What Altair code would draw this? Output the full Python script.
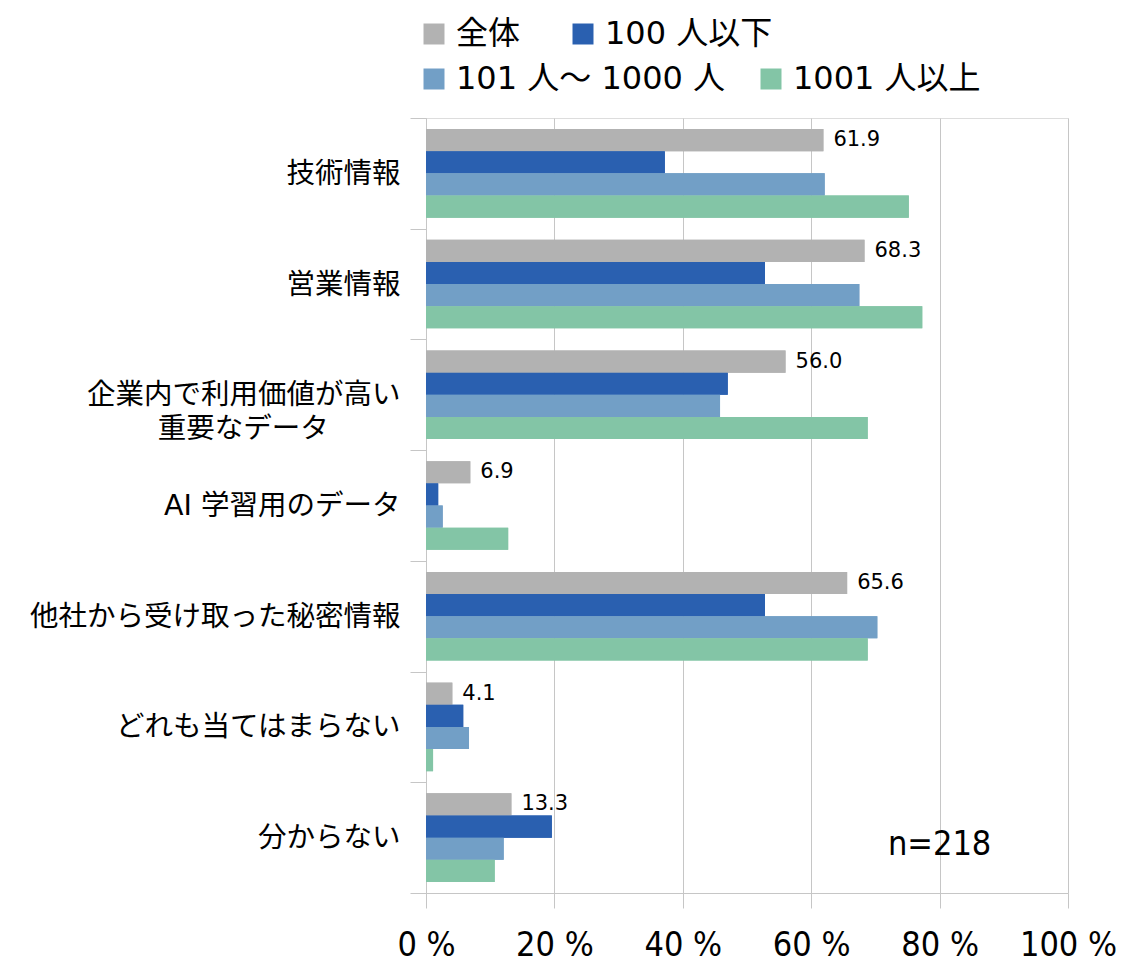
import altair as alt
import pandas as pd

categories = [
    "技術情報",
    "営業情報",
    "企業内で利用価値が高い\n重要なデータ　　\u2009\u00a0\u200b",
    "AI 学習用のデータ",
    "他社から受け取った秘密情報",
    "どれも当てはまらない",
    "分からない",
]
series = ["全体", "100 人以下", "101 人～ 1000 人", "1001 人以上"]
colors = ["#b2b2b2", "#2a60b0", "#729fc6", "#83c5a6"]

v_all = [61.9, 68.3, 56.0, 6.9, 65.6, 4.1, 13.3]
v_small = [37.2, 52.8, 47.0, 1.9, 52.8, 5.8, 19.6]
v_mid = [62.1, 67.5, 45.8, 2.6, 70.3, 6.7, 12.1]
v_large = [75.2, 77.3, 68.8, 12.8, 68.8, 1.1, 10.7]

x_ticks = [0, 20, 40, 60, 80, 100]
sample_label = ["n=218"]

rows = []
for s, vals in zip(series, [v_all, v_small, v_mid, v_large]):
    for c, v in zip(categories, vals):
        rows.append({"category": c, "series": s, "value": v})
df = pd.DataFrame(rows)

FONT = "DejaVu Sans, Noto Sans CJK JP, sans-serif"
NARROW = "DejaVu Sans Condensed, Liberation Sans, sans-serif"
GRID = "#c6c6c6"

x_enc = alt.X(
    "value:Q",
    scale=alt.Scale(domain=[0, 100]),
    axis=alt.Axis(
        title=None,
        values=x_ticks,
        labelExpr="datum.value + ' %'",
        labelFont=NARROW,
        labelFontSize=34,
        labelColor="black",
        tickSize=15,
        tickColor=GRID,
        domainColor=GRID,
        gridColor=GRID,
        labelPadding=20,
        labelFlush=False,
    ),
)
y_enc = alt.Y(
    "category:N",
    sort=categories,
    scale=alt.Scale(paddingInner=0, paddingOuter=0),
    axis=alt.Axis(
        title=None,
        labelFont=FONT,
        labelFontSize=28.5,
        labelColor="black",
        labelPadding=10,
        labelLimit=600,
        labelLineHeight=34,
        labelExpr="split(datum.label, '\\n')",
        tickBand="extent",
        tickSize=16,
        tickColor=GRID,
        domainColor=GRID,
        grid=False,
    ),
)
yoff = alt.YOffset("series:N", sort=series, scale=alt.Scale(paddingInner=0, paddingOuter=0.5))

legend_common = dict(
    title=None,
    orient="none",
    direction="horizontal",
    labelFont=FONT,
    labelFontSize=32,
    labelColor="black",
    symbolType="square",
    symbolSize=441,
    symbolStrokeWidth=0,
    symbolOpacity=1,
    labelOffset=6,
    labelLimit=600,
)

bars = alt.Chart(df).mark_bar().encode(
    x=x_enc,
    y=y_enc,
    yOffset=yoff,
    color=alt.Color(
        "series:N",
        scale=alt.Scale(domain=series, range=colors),
        legend=alt.Legend(values=series[:2], legendX=-8, legendY=-100,
                          columnPadding=46, **legend_common),
    ),
)

# same bars again, carrying the second legend row
order2 = series[2:] + series[:2]
colors2 = colors[2:] + colors[:2]
bars2 = alt.Chart(df).mark_bar().encode(
    x="value:Q",
    y=alt.Y("category:N", sort=categories),
    yOffset=yoff,
    fill=alt.Fill(
        "series:N",
        scale=alt.Scale(domain=order2, range=colors2),
        legend=alt.Legend(values=series[2:], legendX=-8, legendY=-55,
                          columnPadding=29, **legend_common),
    ),
)

labels = (
    alt.Chart(df)
    .transform_filter(alt.datum.series == "全体")
    .mark_text(align="left", dx=10, font=FONT, fontSize=21, color="black")
    .encode(x="value:Q", y=alt.Y("category:N", sort=categories), yOffset=yoff,
            text=alt.Text("value:Q", format=".1f"))
)

n_text = (
    alt.Chart(pd.DataFrame({"t": sample_label}))
    .mark_text(font=NARROW, fontSize=34, color="black", dy=7)
    .encode(x=alt.datum(80), y=alt.datum("分からない"), text="t:N")
)

chart = (
    alt.layer(bars, bars2, labels, n_text)
    .properties(width=642, height=775, padding={"left": 21, "top": 10, "right": 5, "bottom": 0})
    .configure_view(stroke=GRID, strokeWidth=1)
    .configure(background="white")
)

chart.save("out.html", embed_options={"renderer": "svg", "actions": False})
